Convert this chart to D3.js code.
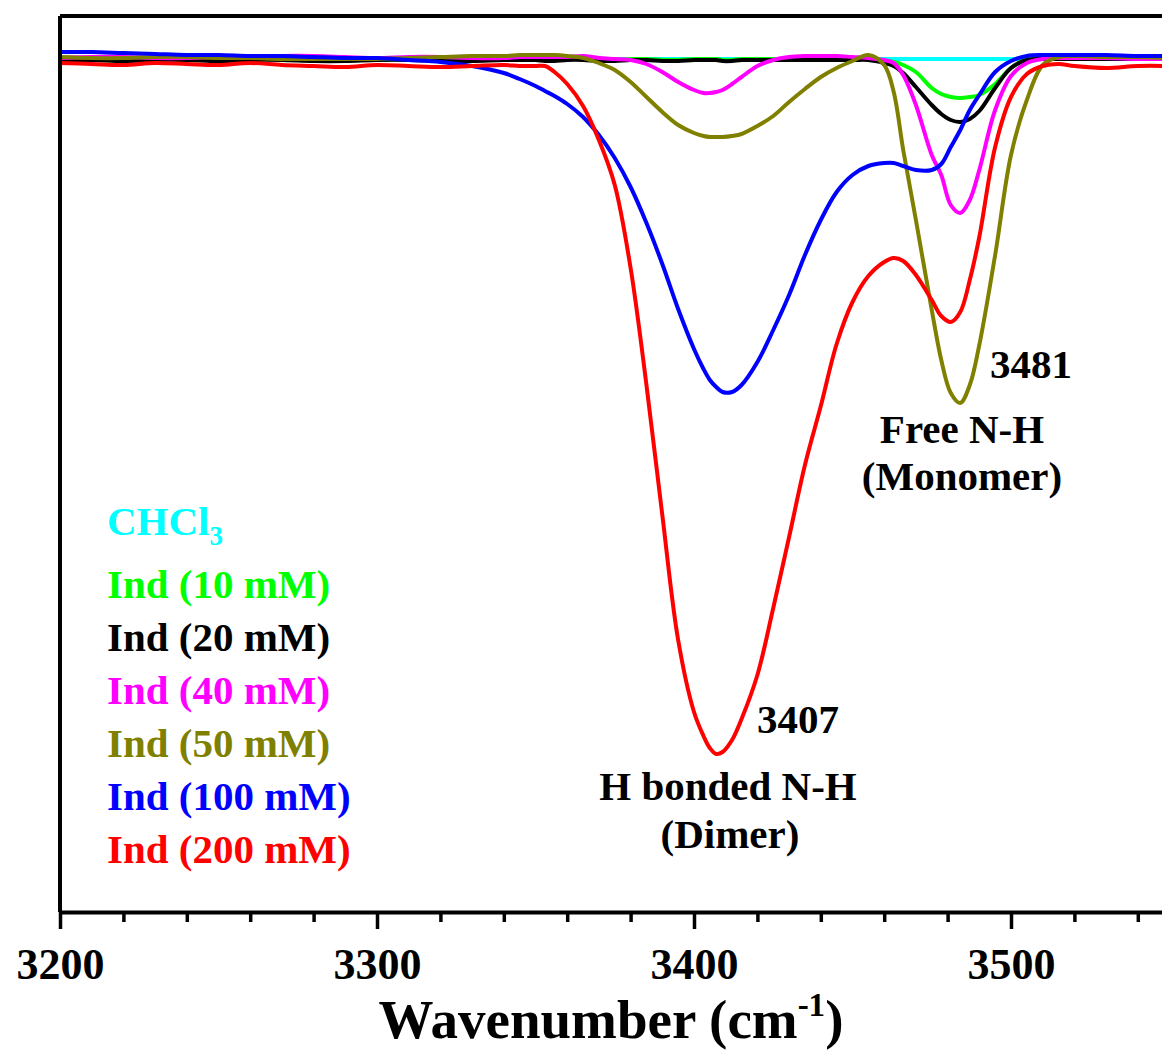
<!DOCTYPE html>
<html>
<head>
<meta charset="utf-8">
<script src="https://cdn.jsdelivr.net/npm/d3@7"></script>
<style>
  html, body { margin: 0; padding: 0; background: #ffffff; }
  svg { display: block; }
  text { font-family: "Liberation Serif", "Times New Roman", serif; font-weight: bold; }
</style>
</head>
<body>
<svg id="chart" width="1162" height="1051"></svg>
<script>
// ---------------- data ----------------
const wavenumbers = [3200,3210,3220,3230,3240,3250,3260,3270,3280,3290,3300,3310,3320,3330,3340,3345,3350,3353,3356,3360,3365,3370,3375,3380,3385,3390,3395,3400,3403,3405,3407,3409,3412,3415,3420,3425,3430,3435,3440,3445,3450,3455,3460,3463,3466,3470,3475,3478,3481,3484,3487,3490,3495,3500,3505,3510,3515,3520,3530,3540,3550];

const chcl3 = [85.3,85.3,85.3,85.3,85.3,85.3,85.3,85.3,85.3,85.3,85.3,85.3,85.3,85.3,85.3,85.3,85.3,85.3,85.3,85.3,85.3,85.3,85.3,85.3,85.3,85.3,85.3,85.3,85.3,85.3,85.3,85.3,85.3,85.3,85.3,85.3,85.3,85.3,85.3,85.3,85.3,85.3,85.3,85.3,85.3,85.3,85.3,85.3,85.3,85.3,85.3,85.3,85.3,85.3,85.3,85.3,85.3,85.3,85.3,85.3,85.3];

const ind10 = [85.3,85.2,85.2,85.3,85.2,85.2,85.3,85.3,85.2,85.2,85.2,85.3,85.2,85.2,85.3,85.3,85.2,85.2,85.2,85.3,85.3,85.2,85.2,85.3,85.3,85.2,85.2,85.3,85.3,85.3,85.3,85.2,85.2,85.3,85.3,85.3,85.3,85.3,85.3,85.3,85.3,85.3,85.1,85.0,84.7,84.0,82.4,81.8,81.5,81.4,81.5,81.7,82.8,84.4,85.3,85.4,85.4,85.4,85.4,85.4,85.4];

const ind20 = [85.2,85.2,85.1,85.2,85.2,85.1,85.2,85.2,85.1,85.1,85.2,85.2,85.1,85.1,85.2,85.2,85.2,85.1,85.1,85.2,85.2,85.1,85.1,85.2,85.2,85.1,85.1,85.2,85.2,85.2,85.2,85.1,85.1,85.2,85.2,85.2,85.2,85.2,85.2,85.2,85.2,85.2,84.9,84.6,83.9,82.5,80.7,79.8,79.2,79.0,79.3,80.1,82.4,84.4,85.2,85.3,85.3,85.3,85.3,85.3,85.3];

const ind40 = [85.4,85.5,85.5,85.4,85.4,85.5,85.5,85.6,85.6,85.5,85.4,85.5,85.5,85.4,85.4,85.5,85.5,85.5,85.5,85.5,85.6,85.4,85.3,85.2,84.8,84.0,83.0,82.2,81.9,81.9,82.0,82.2,82.8,83.5,84.6,85.2,85.5,85.6,85.6,85.6,85.5,85.4,85.2,84.9,83.7,80.7,75.7,73.7,70.7,69.9,71.2,74.2,80.2,83.6,84.9,85.3,85.4,85.4,85.4,85.3,85.3];

const ind50 = [85.5,85.4,85.4,85.5,85.5,85.4,85.4,85.3,85.3,85.3,85.3,85.4,85.5,85.6,85.6,85.7,85.7,85.7,85.7,85.6,85.4,84.9,84.2,83.0,81.5,80.0,78.7,77.9,77.6,77.5,77.5,77.5,77.6,77.8,78.6,79.6,81.0,82.3,83.5,84.4,85.1,85.7,84.7,82.0,76.2,69.2,60.2,55.2,51.9,50.9,52.7,56.7,65.7,75.7,81.2,84.7,85.5,85.6,85.5,85.5,85.4];

const ind100 = [86.0,86.0,85.9,85.8,85.7,85.7,85.6,85.6,85.5,85.4,85.4,85.2,85.0,84.6,83.9,83.3,82.6,82.1,81.6,80.8,79.5,77.7,75.4,72.5,68.9,64.8,60.3,56.3,54.3,53.2,52.5,52.0,52.0,52.7,55.0,58.2,61.7,65.7,69.2,72.0,73.7,74.6,74.9,74.9,74.6,74.2,74.2,74.8,76.5,78.2,80.2,81.7,84.0,85.1,85.6,85.7,85.7,85.7,85.7,85.6,85.6];

const ind200 = [84.9,84.8,84.7,84.9,84.8,84.7,84.9,84.7,84.6,84.5,84.7,84.6,84.5,84.6,84.7,84.6,84.6,84.6,84.0,82.8,80.6,77.2,72.7,64.4,52.7,39.7,27.2,20.0,17.6,16.4,15.8,16.0,17.2,19.3,23.7,30.4,37.5,44.7,50.6,56.8,61.0,63.6,65.0,65.4,65.1,63.7,61.2,59.6,59.0,60.0,63.2,67.5,76.5,81.5,83.8,84.6,84.8,84.6,84.4,84.6,84.6];

const seriesNames = ["CHCl3", "Ind (10 mM)", "Ind (20 mM)", "Ind (40 mM)", "Ind (50 mM)", "Ind (100 mM)", "Ind (200 mM)"];
const seriesColors = ["#00FFFF", "#00FF00", "#000000", "#FF00FF", "#808000", "#0000FF", "#FF0000"];
const seriesValues = [chcl3, ind10, ind20, ind40, ind50, ind100, ind200];

const majorTicks = [3200, 3300, 3400, 3500];
const minorTicks = [3220,3240,3260,3280,3320,3340,3360,3380,3420,3440,3460,3480,3520,3540];

// ---------------- drawing ----------------
(function () {
const svg = d3.select("#chart");
const pLeft = 60, pTop = 16, pBottom = 912;

const x = d3.scaleLinear().domain([3200, 3550]).range([60, 1169.5]);
const y = d3.scaleLinear().domain([0, 89.6]).range([pBottom, pTop]);

svg.append("defs").append("clipPath").attr("id", "plotclip")
  .append("rect").attr("x", pLeft).attr("y", pTop).attr("width", 1200).attr("height", pBottom - pTop);

const line = d3.line()
  .x((d, i) => x(wavenumbers[i]))
  .y(d => y(d))
  .curve(d3.curveCatmullRom.alpha(0.5));

const plot = svg.append("g").attr("clip-path", "url(#plotclip)");
seriesValues.forEach((vals, k) => {
  plot.append("path")
    .attr("d", line(vals))
    .attr("fill", "none")
    .attr("stroke", seriesColors[k])
    .attr("stroke-width", 4)
    .attr("stroke-linejoin", "round");
});

// frame (left and top)
svg.append("line").attr("x1", pLeft).attr("x2", pLeft).attr("y1", pTop).attr("y2", pBottom)
  .attr("stroke", "#000").attr("stroke-width", 4);
svg.append("line").attr("x1", pLeft).attr("x2", 1200).attr("y1", pTop).attr("y2", pTop)
  .attr("stroke", "#000").attr("stroke-width", 4);

// bottom axis
const axisG = svg.append("g").attr("transform", `translate(0,${pBottom})`);
axisG.call(d3.axisBottom(x).tickValues(majorTicks).tickSize(17).tickSizeOuter(0).tickFormat(d3.format("d")));
axisG.select(".domain").attr("stroke", "#000").attr("stroke-width", 4);
axisG.selectAll(".tick line").attr("stroke", "#000").attr("stroke-width", 3.5);
axisG.selectAll(".tick text")
  .attr("y", 67).attr("dy", 0)
  .attr("fill", "#000")
  .style("font-family", "'Liberation Serif', 'Times New Roman', serif")
  .style("font-weight", "bold")
  .style("font-size", "44px");

const minorG = svg.append("g").attr("transform", `translate(0,${pBottom})`);
minorG.call(d3.axisBottom(x).tickValues(minorTicks).tickSize(10).tickSizeOuter(0).tickFormat(""));
minorG.select(".domain").remove();
minorG.selectAll(".tick line").attr("stroke", "#000").attr("stroke-width", 3.5);

// axis title
const title = svg.append("text").attr("x", 611).attr("y", 1038)
  .attr("text-anchor", "middle").style("font-size", "55px").attr("fill", "#000");
title.append("tspan").text("Wavenumber (cm");
title.append("tspan").text("-1").style("font-size", "33px").attr("dy", -22);
title.append("tspan").text(")").attr("dy", 22);

// legend
const legendY = [535, 598, 651, 704, 757, 810, 863];
seriesNames.forEach((name, k) => {
  const t = svg.append("text").attr("x", 107).attr("y", legendY[k])
    .style("font-size", "41px").attr("fill", seriesColors[k]);
  if (name === "CHCl3") {
    t.append("tspan").text("CHCl");
    t.append("tspan").text("3").style("font-size", "27px").attr("dy", 10);
  } else {
    t.text(name);
  }
});

// peak annotations
const ann = svg.append("g").style("font-size", "41px").attr("fill", "#000");
ann.append("text").attr("x", 757).attr("y", 733).text("3407");
ann.append("text").attr("x", 728).attr("y", 800).attr("text-anchor", "middle").text("H bonded N-H");
ann.append("text").attr("x", 730).attr("y", 848).attr("text-anchor", "middle").text("(Dimer)");
ann.append("text").attr("x", 990).attr("y", 378).text("3481");
ann.append("text").attr("x", 962).attr("y", 443).attr("text-anchor", "middle").text("Free N-H");
ann.append("text").attr("x", 962).attr("y", 490).attr("text-anchor", "middle").text("(Monomer)");
})();
</script>
</body>
</html>
